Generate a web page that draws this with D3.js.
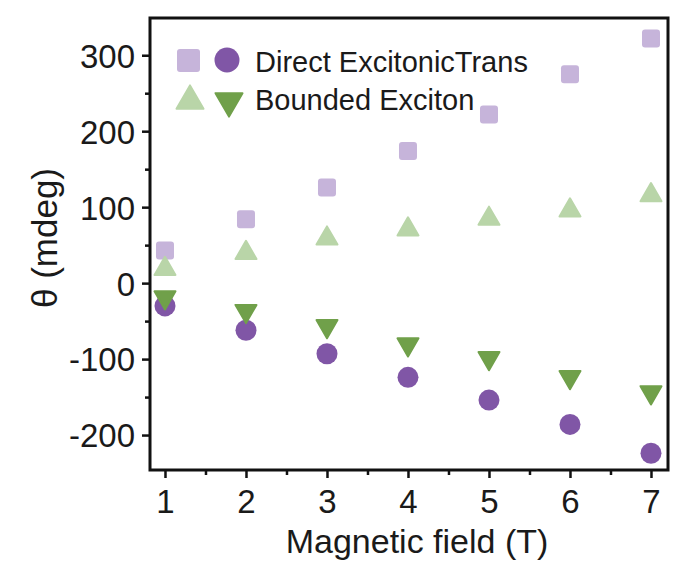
<!DOCTYPE html>
<html>
<head>
<meta charset="utf-8">
<script src="https://cdn.jsdelivr.net/npm/d3@7"></script>
<style>
  html, body { margin: 0; padding: 0; background: #fff; }
  svg text { font-family: "Liberation Sans", Arial, sans-serif; fill: #1a1a1a; }
</style>
</head>
<body>
<svg width="684" height="565"></svg>
<script>
// data
var fields = [1, 2, 3, 4, 5, 6, 7];
var directSquare = [43, 84, 126, 174, 222, 275, 322];
var directCircle = [-30, -62, -93, -124, -154, -186, -224];
var boundedUp = [20, 41, 60, 72, 86, 97, 117];
var boundedDown = [-20, -38, -58, -82, -100, -125, -145];
var yTicks = [-200, -100, 0, 100, 200, 300];
var legendRows = ['Direct ExcitonicTrans', 'Bounded Exciton'];

(function(){
  var svg = d3.select('svg');
  var pL = 150, pR = 668, pT = 18, pB = 470;

  var x = d3.scaleLinear().domain([0.815, 7.21]).range([pL, pR]);
  var y = d3.scaleLinear().domain([-246, 349]).range([pB, pT]);

  var colors = {
    lightPurple: '#c6b4da',
    purple: '#8056a6',
    lightGreen: '#b9d5a8',
    green: '#70a04a'
  };

  // axes (plain hyphen for negatives, like the original)
  var plain = function(d){ return String(d); };
  var xAxis = svg.append('g')
    .attr('transform', 'translate(0,' + pB + ')')
    .call(d3.axisBottom(x).tickValues(fields).tickSize(8).tickPadding(12).tickFormat(plain));
  var xMinor = svg.append('g')
    .attr('transform', 'translate(0,' + pB + ')')
    .call(d3.axisBottom(x).tickValues(d3.range(1.5, 7, 1)).tickSize(5).tickFormat(''));

  var yAxis = svg.append('g')
    .attr('transform', 'translate(' + pL + ',0)')
    .call(d3.axisLeft(y).tickValues(yTicks).tickSize(8).tickPadding(7).tickFormat(plain));
  var yMinor = svg.append('g')
    .attr('transform', 'translate(' + pL + ',0)')
    .call(d3.axisLeft(y).tickValues([-150, -50, 50, 150, 250]).tickSize(5).tickFormat(''));

  [xAxis, xMinor, yAxis, yMinor].forEach(function(g){
    g.select('.domain').remove();
    g.selectAll('line').attr('stroke', '#111').attr('stroke-width', 2.5);
    g.selectAll('text').attr('font-size', 33).attr('fill', '#1a1a1a');
  });
  yAxis.selectAll('text').attr('dy', '0.36em');

  // frame
  svg.append('rect')
    .attr('x', pL).attr('y', pT)
    .attr('width', pR - pL).attr('height', pB - pT)
    .attr('fill', 'none').attr('stroke', '#111').attr('stroke-width', 3);

  // axis titles
  svg.append('text')
    .attr('x', (pL + pR) / 2 + 8).attr('y', 553)
    .attr('text-anchor', 'middle').attr('font-size', 34)
    .text('Magnetic field (T)');
  svg.append('text')
    .attr('transform', 'translate(57,238) rotate(-90)')
    .attr('text-anchor', 'middle').attr('font-size', 35)
    .text('\u03b8 (mdeg)');

  // markers
  function pts(vals){
    return vals.map(function(v, i){ return {f: fields[i], v: v}; });
  }
  var ciSym = d3.symbol().type(d3.symbolCircle).size(Math.PI * 10.5 * 10.5);
  var triSide = 21;
  var triSym = d3.symbol().type(d3.symbolTriangle).size(Math.sqrt(3) / 4 * triSide * triSide);

  var plot = svg.append('g');

  plot.selectAll('.sq')
      .data(pts(directSquare))
    .enter().append('rect')
      .attr('class', 'sq')
      .attr('x', function(d){ return x(d.f) - 9; })
      .attr('y', function(d){ return y(d.v) - 9; })
      .attr('width', 18).attr('height', 18)
      .attr('rx', 3)
      .attr('fill', colors.lightPurple);

  plot.selectAll('.up')
      .data(pts(boundedUp))
    .enter().append('path')
      .attr('class', 'up')
      .attr('d', triSym)
      .attr('stroke', colors.lightGreen).attr('stroke-width', 2).attr('stroke-linejoin', 'round')
      .attr('transform', function(d){ return 'translate(' + x(d.f) + ',' + (y(d.v) + 1) + ')'; })
      .attr('fill', colors.lightGreen);

  plot.selectAll('.ci')
      .data(pts(directCircle))
    .enter().append('path')
      .attr('class', 'ci')
      .attr('d', ciSym)
      .attr('transform', function(d){ return 'translate(' + x(d.f) + ',' + y(d.v) + ')'; })
      .attr('fill', colors.purple);

  plot.selectAll('.down')
      .data(pts(boundedDown))
    .enter().append('path')
      .attr('class', 'down')
      .attr('d', triSym)
      .attr('stroke', colors.green).attr('stroke-width', 2).attr('stroke-linejoin', 'round')
      .attr('transform', function(d){ return 'translate(' + x(d.f) + ',' + (y(d.v) - 1) + ') rotate(180)'; })
      .attr('fill', colors.green);

  // legend
  var legend = svg.append('g');
  legend.append('rect')
    .attr('x', 177).attr('y', 49).attr('width', 23).attr('height', 23).attr('rx', 3)
    .attr('fill', colors.lightPurple);
  legend.append('circle')
    .attr('cx', 227).attr('cy', 60).attr('r', 12.5)
    .attr('fill', colors.purple);
  var legTri = d3.symbol().type(d3.symbolTriangle).size(Math.sqrt(3) / 4 * 27 * 27);
  legend.append('path')
    .attr('d', legTri)
    .attr('transform', 'translate(190,101)')
    .attr('stroke', colors.lightGreen).attr('stroke-width', 2).attr('stroke-linejoin', 'round')
    .attr('fill', colors.lightGreen);
  legend.append('path')
    .attr('d', legTri)
    .attr('transform', 'translate(229,101) rotate(180)')
    .attr('stroke', colors.green).attr('stroke-width', 2).attr('stroke-linejoin', 'round')
    .attr('fill', colors.green);
  legend.selectAll('text')
      .data(legendRows)
    .enter().append('text')
      .attr('x', 255)
      .attr('y', function(d, i){ return 72 + i * 38; })
      .attr('font-size', 29)
      .text(function(d){ return d; });
})();
</script>
</body>
</html>
